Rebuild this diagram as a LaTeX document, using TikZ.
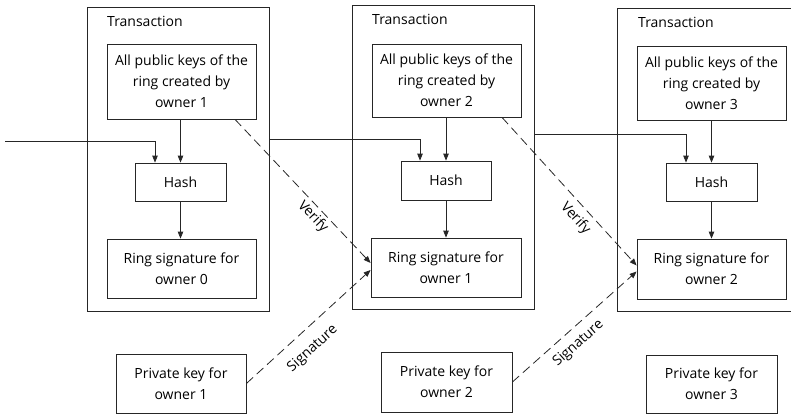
\documentclass[tikz,border=0pt]{standalone}
\usepackage{fontspec}
\setmainfont{Open Sans}
\usetikzlibrary{arrows.meta}
\begin{document}
\begin{tikzpicture}[x=1pt,y=-1pt,
  ln/.style={draw=black!85, line width=0.8pt},
  box/.style={ln, align=center, inner sep=0pt, font=\fontsize{14}{21}\selectfont},
  txbox/.style={ln, inner sep=0pt},
  txlabel/.style={anchor=base west, inner sep=0pt, font=\fontsize{14}{16}\selectfont},
  arr/.style={ln, -{Triangle[length=7pt,width=5.5pt]}},
  dasharr/.style={arr, dash pattern=on 9pt off 5pt},
  lbl/.style={font=\fontsize{14}{16}\selectfont, sloped, inner sep=1pt}]
  \useasboundingbox (0,0) rectangle (791,415);
  \clip (0,0) rectangle (791,415);

  % transaction frames
  \node[txbox, minimum width=182pt, minimum height=304pt] (tx1) at (178,159) {};
  \node[txbox, minimum width=182pt, minimum height=304pt] (tx2) at (443,157) {};
  \node[txbox, minimum width=183pt, minimum height=303pt] (tx3) at (708.5,159.5) {};
  \node[txlabel] (t1) at (107,26.5) {Transaction};
  \node[txlabel] (t2) at (372,24.5) {Transaction};
  \node[txlabel] (t3) at (638,27) {Transaction};

  % public key sets
  \node[box, minimum width=149pt, minimum height=75pt] (p1) at (181.5,81.5) {All public keys of the\\ring created by\\owner 1};
  \node[box, minimum width=149pt, minimum height=73pt] (p2) at (446.5,80.5) {All public keys of the\\ring created by\\owner 2};
  \node[box, minimum width=149pt, minimum height=74pt] (p3) at (711.5,83) {All public keys of the\\ring created by\\owner 3};

  % hashes
  \node[box, minimum width=91pt, minimum height=38pt] (h1) at (180.5,182) {Hash};
  \node[box, minimum width=90pt, minimum height=39pt] (h2) at (446,180.5) {Hash};
  \node[box, minimum width=91pt, minimum height=38pt] (h3) at (711.5,182) {Hash};

  % ring signatures
  \node[box, minimum width=149pt, minimum height=59pt] (r0) at (181.5,268.5) {Ring signature for\\owner 0};
  \node[box, minimum width=150pt, minimum height=59pt] (r1) at (446,267.5) {Ring signature for\\owner 1};
  \node[box, minimum width=149pt, minimum height=60pt] (r2) at (711.5,269) {Ring signature for\\owner 2};

  % private keys
  \node[box, minimum width=130pt, minimum height=59pt] (k1) at (181,383.5) {Private key for\\owner 1};
  \node[box, minimum width=131pt, minimum height=60pt] (k2) at (446.5,382) {Private key for\\owner 2};
  \node[box, minimum width=131pt, minimum height=58pt] (k3) at (711.5,384) {Private key for\\owner 3};

  % chain of hashes
  \coordinate (in) at (5,141);
  \draw[arr] (in) -| ([xshift=-25.5pt]h1.north);
  \draw[arr] ([yshift=20pt]tx1.east) -| ([xshift=-26pt]h2.north);
  \draw[arr] ([yshift=23pt]tx2.east) -| ([xshift=-25.5pt]h3.north);

  % inside each transaction
  \draw[arr] (p1.south -| h1.north) -- (h1.north);
  \draw[arr] (h1.south) -- (h1.south |- r0.north);
  \draw[arr] (p2.south -| h2.north) -- (h2.north);
  \draw[arr] (h2.south) -- (h2.south |- r1.north);
  \draw[arr] (p3.south -| h3.north) -- (h3.north);
  \draw[arr] (h3.south) -- (h3.south |- r2.north);

  % verification and signing
  \draw[dasharr] ([xshift=53.5pt]p1.south) -- node[lbl, pos=0.63, below=2pt] {Verify} ([yshift=4.5pt]r1.west);
  \draw[dasharr] (k1.east) -- node[lbl, pos=0.43, below=11pt] {Signature} ([yshift=-2.5pt]r1.west);
  \draw[dasharr] ([xshift=55.5pt]p2.south) -- node[lbl, pos=0.62, below=5pt] {Verify} ([yshift=3.5pt]r2.west);
  \draw[dasharr] (k2.east) -- node[lbl, pos=0.45, below=7pt] {Signature} ([yshift=-2.5pt]r2.west);
\end{tikzpicture}
\end{document}
